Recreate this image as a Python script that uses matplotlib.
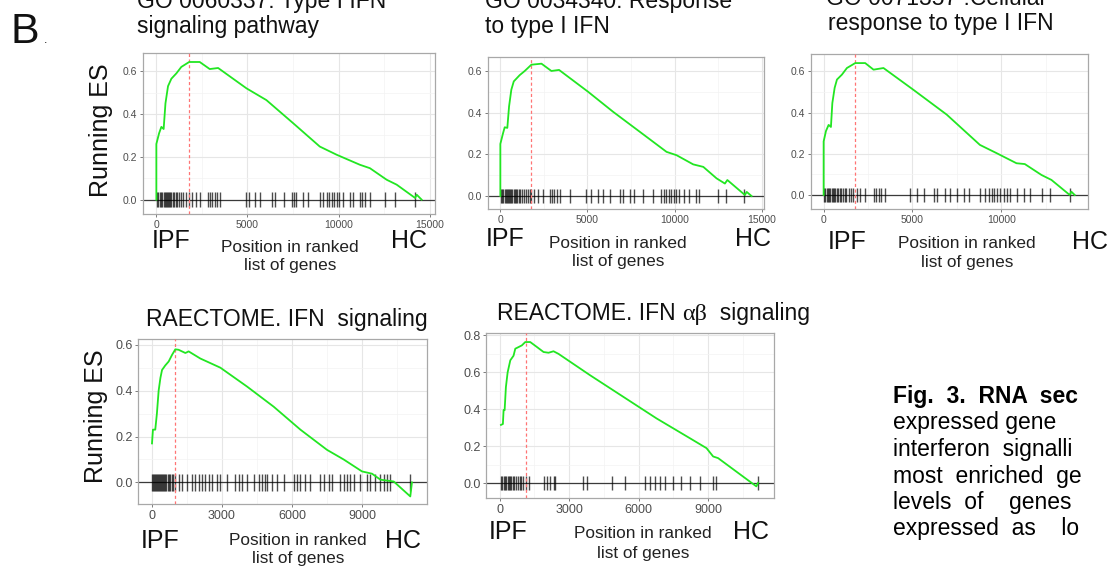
import matplotlib
matplotlib.use("Agg")
import matplotlib.pyplot as plt
from matplotlib.ticker import FixedLocator, FormatStrFormatter

plt.rcParams['font.family'] = ['Liberation Sans', 'DejaVu Sans']

# ---------------- data ----------------
# Panel 1: GO 0060337
p1_rank = [0, 0, 150, 275, 400, 500, 640, 825, 1100, 1370, 1800, 2380, 2930, 3390, 4945,
           6040, 7510, 8970, 9890, 11170, 11720, 12640, 13190, 14200, 14290, 14560]
p1_es = [0, 0.26, 0.31, 0.34, 0.33, 0.45, 0.53, 0.565, 0.59, 0.62, 0.643, 0.643, 0.61, 0.615,
         0.52, 0.465, 0.357, 0.248, 0.21, 0.163, 0.147, 0.093, 0.07, 0.008, 0.023, 0.0]
p1_hits = [30, 110, 190, 260, 330, 400, 470, 520, 580, 640, 700, 760, 820, 900, 980, 1060,
           1150, 1250, 1350, 1480, 1620, 1780, 1950, 2150, 2380, 2830, 2950, 3080, 3200, 3330,
           3480, 4945, 5100, 5400, 5680, 6320, 6500, 6995, 7420, 7560, 7690, 8060, 8330, 8975,
           9120, 9340, 9480, 9615, 9750, 9890, 10050, 10255, 10620, 10800, 11170, 11300, 11445,
           11720, 12545, 13095, 14190]
p1_peak = 1795

# Panel 2: GO 0034340
p2_rank = [0, 0, 150, 250, 400, 500, 630, 770, 1110, 1400, 1780, 2360, 2930, 3370, 5040,
           6475, 8010, 9540, 10115, 11070, 11650, 12410, 12890, 13030, 14040, 14140, 14420]
p2_es = [0, 0.25, 0.30, 0.33, 0.327, 0.43, 0.51, 0.55, 0.58, 0.60, 0.63, 0.635, 0.60, 0.605,
         0.50, 0.404, 0.308, 0.212, 0.196, 0.152, 0.14, 0.085, 0.06, 0.077, 0.005, 0.02, 0.0]
p2_hits = [30, 110, 180, 250, 320, 390, 450, 510, 570, 630, 690, 760, 830, 900, 980, 1060,
           1150, 1250, 1350, 1450, 1560, 1680, 1775, 1960, 2158, 2444, 2826, 2950, 3100, 3250,
           3400, 3970, 4930, 5218, 5600, 5885, 6270, 6840, 7030, 7415, 7700, 8180, 8750, 9230,
           9380, 9515, 9660, 9800, 9950, 10090, 10280, 10560, 10850, 11225, 11430, 12480,
           12955, 14010]
p2_peak = 1780

# Panel 3: GO 0071357
p3_rank = [0, 0, 130, 280, 410, 490, 620, 750, 1030, 1310, 1780, 2340, 2810, 3370, 5060,
           6930, 8800, 9740, 10860, 11330, 12270, 12830, 13860, 13950, 14140]
p3_es = [0, 0.26, 0.31, 0.34, 0.33, 0.446, 0.52, 0.56, 0.584, 0.616, 0.64, 0.64, 0.608, 0.616,
         0.51, 0.39, 0.243, 0.203, 0.154, 0.15, 0.097, 0.073, 0.0, 0.016, 0.0]
p3_hits = [30, 100, 170, 240, 310, 380, 450, 520, 590, 660, 740, 820, 900, 990, 1080, 1180,
           1280, 1400, 1520, 1650, 1880, 2065, 2347, 2815, 2950, 3100, 3250, 3473, 4880, 5255,
           5630, 6190, 6380, 6850, 7130, 7505, 7880, 8160, 8820, 9100, 9290, 9480, 9620, 9760,
           9950, 10135, 10320, 10510, 10890, 11260, 11640, 12295, 12760, 13890]
p3_peak = 1750

# Panel 4: REACTOME IFN signaling
p4_rank = [0, 40, 140, 210, 285, 360, 430, 570, 715, 860, 1000, 1140, 1430, 1570, 2070, 2930,
           4070, 5215, 6360, 7500, 8215, 9000, 9430, 9790, 10360, 11070, 11140]
p4_es = [0.17, 0.23, 0.23, 0.30, 0.40, 0.455, 0.49, 0.51, 0.527, 0.556, 0.58, 0.578, 0.564,
         0.571, 0.54, 0.50, 0.418, 0.33, 0.23, 0.142, 0.10, 0.048, 0.038, 0.012, 0.004,
         -0.061, 0.0]
p4_hits = [20, 60, 100, 140, 180, 220, 260, 300, 340, 380, 420, 470, 520, 570, 620, 670, 720,
           780, 850, 920, 1000, 1141, 1284, 1498, 1713, 1856, 1999, 2141, 2284, 2427, 2570,
           2784, 2927, 3213, 3570, 3713, 3856, 4070, 4356, 4570, 4713, 4856, 4927, 5141, 5355,
           5641, 6070, 6213, 6356, 6570, 6784, 7213, 7356, 7570, 7713, 8070, 8213, 8356, 8499,
           8642, 8928, 9214, 9357, 9571, 9785, 9928, 10071, 10214, 11071]
p4_peak = 1000

# Panel 5: REACTOME IFN alpha-beta signaling
p5_rank = [57, 140, 170, 215, 270, 345, 460, 600, 675, 820, 960, 1105, 1320, 1610, 1895, 2110,
           2325, 2540, 3905, 5340, 6775, 8210, 8930, 9215, 9430, 11080, 11150]
p5_es = [0.315, 0.32, 0.395, 0.395, 0.52, 0.60, 0.665, 0.69, 0.728, 0.737, 0.746, 0.764, 0.764,
         0.737, 0.71, 0.706, 0.714, 0.70, 0.584, 0.467, 0.35, 0.243, 0.189, 0.144, 0.135,
         -0.018, 0.0]
p5_hits = [60, 120, 180, 240, 290, 340, 390, 440, 500, 560, 620, 700, 780, 860, 940, 1010,
           1130, 1250, 1895, 2038, 2182, 2325, 2397, 3617, 3760, 4836, 5410, 6271, 6486, 6701,
           6917, 7132, 7490, 7849, 8208, 8638, 9212, 9356, 11150]
p5_peak = 1135

top_xticks = [0, 5000, 10000, 15000]
top_xminor = [2500, 7500, 12500]
bot_xticks = [0, 3000, 6000, 9000]
bot_xminor = [1500, 4500, 7500, 10500]
yticks_06 = [0.0, 0.2, 0.4, 0.6]
yticks_08 = [0.0, 0.2, 0.4, 0.6, 0.8]
yminor_06 = [0.1, 0.3, 0.5]
yminor_08 = [0.1, 0.3, 0.5, 0.7]

caption_lines = ["Fig.  3.  RNA  sec", "expressed gene", "interferon  signalli",
                 "most  enriched  ge", "levels  of    genes", "expressed  as    lo"]

# ---------------- figure ----------------
W, H = 1112, 567
fig = plt.figure(figsize=(W / 100, H / 100), dpi=100)
fig.patch.set_facecolor('white')
TXT = '#111111'


def add_ax(x0, y0, x1, y1):
    return fig.add_axes([x0 / W, 1 - y1 / H, (x1 - x0) / W, (y1 - y0) / H])


def ftext(x, y, s, **kw):
    kw.setdefault('color', TXT)
    return fig.text(x / W, 1 - y / H, s, **kw)


def panel(box, rank, es, hits, peak, xlim, ylim, xt, xm, yt, ym, fs, hh):
    ax = add_ax(*box)
    ax.set_facecolor('white')
    for s in ax.spines.values():
        s.set_color('#a8a8a8')
        s.set_linewidth(0.9)
    ax.xaxis.set_major_locator(FixedLocator(xt))
    ax.xaxis.set_minor_locator(FixedLocator(xm))
    ax.yaxis.set_major_locator(FixedLocator(yt))
    ax.yaxis.set_minor_locator(FixedLocator(ym))
    ax.yaxis.set_major_formatter(FormatStrFormatter('%.1f'))
    ax.grid(which='major', color='#e6e6e6', lw=0.8)
    ax.grid(which='minor', color='#f3f3f3', lw=0.5)
    ax.set_axisbelow(True)
    ax.axhline(0, color='#3a3a3a', lw=0.9, zorder=2)
    ax.vlines(hits, -hh, hh, color='black', alpha=0.7, lw=1.0, zorder=3)
    ax.axvline(peak, color='#ff7474', ls=(0, (2.5, 2)), lw=0.9, zorder=3)
    ax.plot(rank, es, color='#22e622', lw=1.3, zorder=4)
    ax.set_xlim(*xlim)
    ax.set_ylim(*ylim)
    ax.tick_params(which='major', labelsize=fs, labelcolor='#4d4d4d', color='#666666',
                   length=2.5, width=0.6, pad=1.5)
    ax.tick_params(which='minor', length=0)
    return ax


panel((143, 53, 435, 214), p1_rank, p1_es, p1_hits, p1_peak, (-733, 15293), (-0.067, 0.685),
      top_xticks, top_xminor, yticks_06, yminor_06, 7.5, 0.034)
panel((488, 57, 764, 209), p2_rank, p2_es, p2_hits, p2_peak, (-709, 15134), (-0.062, 0.667),
      top_xticks, top_xminor, yticks_06, yminor_06, 7.5, 0.034)
panel((811, 54, 1088, 209), p3_rank, p3_es, p3_hits, p3_peak, (-712, 14888), (-0.068, 0.684),
      top_xticks, top_xminor, yticks_06, yminor_06, 7.5, 0.034)
panel((138, 339, 427, 504), p4_rank, p4_es, p4_hits, p4_peak, (-600, 11786), (-0.094, 0.625),
      bot_xticks, bot_xminor, yticks_06, yminor_06, 9, 0.036)
panel((486, 333, 774, 498), p5_rank, p5_es, p5_hits, p5_peak, (-589, 11842), (-0.081, 0.813),
      bot_xticks, bot_xminor, yticks_08, yminor_08, 9, 0.036)

# panel letter
ftext(11, 43, "B", fontsize=31)
ftext(44, 43, ".", fontsize=9)

# titles
TFS = 16.5
ftext(137, 8, "GO 0060337: Type I IFN", fontsize=TFS)
ftext(137, 33, "signaling pathway", fontsize=TFS)
ftext(485, 8, "GO 0034340: Response", fontsize=TFS)
ftext(485, 33, "to type I IFN", fontsize=TFS)
ftext(826, 5, "GO 0071357 :Cellular", fontsize=TFS)
ftext(828, 30, "response to type I IFN", fontsize=TFS)
ftext(146, 326, "RAECTOME. IFN  signaling", fontsize=TFS)
t1 = ftext(497, 320, "REACTOME. IFN ", fontsize=TFS)
a1 = plt.annotate("\u03b1\u03b2", xy=(1, 0), xycoords=t1, va='bottom', ha='left',
                  fontsize=TFS + 1, family=['Liberation Serif', 'DejaVu Serif'], color=TXT)
plt.annotate("  signaling", xy=(1, 0), xycoords=a1, va='bottom', ha='left',
             fontsize=TFS, color=TXT)

# y labels
ftext(101, 130, "Running ES", fontsize=18, rotation=90, ha='center', va='center')
ftext(96, 416, "Running ES", fontsize=18, rotation=90, ha='center', va='center')

# IPF / HC labels and x-axis titles
XFS = 18
PFS = 12.4
for ipf_x, hc_x, base, cx, l1, l2 in [
        (152, 391, 248, 290, 252, 270),
        (486, 735, 246, 618, 248, 266),
        (828, 1072, 249, 967, 248, 267),
        (141, 385, 548, 298, 545, 563),
        (489, 733, 539, 643, 538, 558)]:
    ftext(ipf_x, base, "IPF", fontsize=XFS, va='baseline')
    ftext(hc_x, base, "HC", fontsize=XFS, va='baseline')
    ftext(cx, l1, "Position in ranked", fontsize=PFS, ha='center', va='baseline', color='#222222')
    ftext(cx, l2, "list of genes", fontsize=PFS, ha='center', va='baseline', color='#222222')

# caption (cut at right edge in the original)
cap_base = [403, 429.5, 456, 482.5, 509, 535]
for i, (line, yb) in enumerate(zip(caption_lines, cap_base)):
    ftext(893, yb, line, fontsize=16.5, va='baseline', color='black',
          fontweight='bold' if i == 0 else 'normal')

fig.savefig("out.png", dpi=100, facecolor='white')
